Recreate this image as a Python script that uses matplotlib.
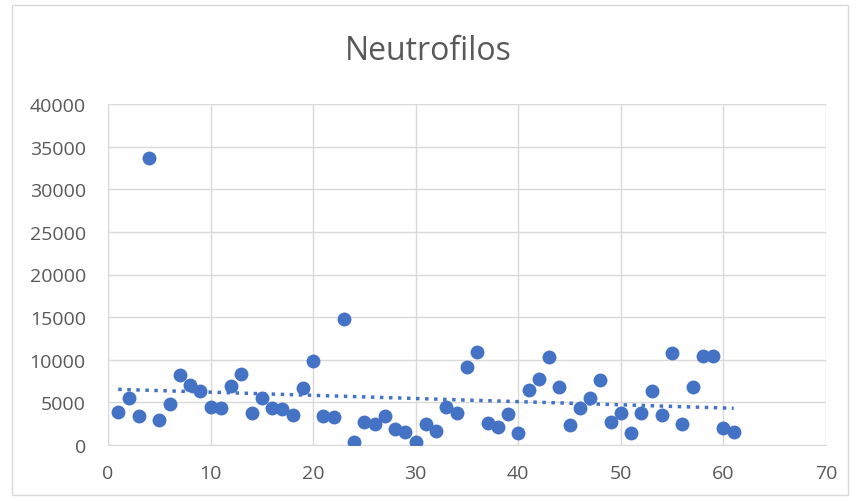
import numpy as np
import matplotlib
matplotlib.use("Agg")
import matplotlib.pyplot as plt
from matplotlib.patches import Rectangle

# Neutrofilos scatter with linear trend line

x = list(range(1, 62))
neutrofilos = [3870, 5500, 3400, 33700, 2900, 4800, 8200, 7000, 6300, 4500,
               4300, 6900, 8300, 3800, 5500, 4300, 4200, 3500, 6700, 9800,
               3400, 3300, 14800, 350, 2700, 2500, 3400, 1900, 1500, 350,
               2500, 1700, 4500, 3800, 9100, 10900, 2600, 2100, 3600, 1400,
               6400, 7700, 10300, 6800, 2300, 4300, 5500, 7600, 2700, 3700,
               1400, 3800, 6300, 3500, 10800, 2500, 6800, 10400, 10400, 2000,
               1500]

blue = "#4472C4"
grid = "#D9D9D9"
text_col = "#595959"

plt.rcParams["font.family"] = ["Open Sans", "DejaVu Sans"]

fig = plt.figure(figsize=(8.57, 5.02), dpi=100)
ax = fig.add_axes([108 / 857, 1 - 446 / 502, (826 - 108) / 857, (446 - 105) / 502])

# outer chart border
fig.patches.append(Rectangle((12 / 857, 6 / 502), 836 / 857, 490 / 502,
                             transform=fig.transFigure, fill=False,
                             edgecolor=grid, linewidth=1))

ax.scatter(x, neutrofilos, s=100, color=blue, zorder=3, linewidths=0)

# linear trend
coef = np.polyfit(x, neutrofilos, 1)
xs = np.array([x[0], x[-1]])
ax.plot(xs, np.polyval(coef, xs), color=blue, linestyle=(0, (1, 1.6)),
        linewidth=2.5, zorder=2)

ax.set_xlim(0, 70)
ax.set_ylim(0, 40000)
ax.set_xticks(range(0, 71, 10))
ax.set_yticks(range(0, 40001, 5000))
ax.grid(True, color=grid, linewidth=1)
ax.set_axisbelow(True)
for side in ["top", "right"]:
    ax.spines[side].set_visible(False)
for side in ["left", "bottom"]:
    ax.spines[side].set_color(grid)
ax.tick_params(length=0, labelsize=14, colors=text_col)
ax.tick_params(axis="y", pad=16)
ax.tick_params(axis="x", pad=14)

fig.text(0.5, 1 - 52 / 502, "Neutrofilos", ha="center", va="center",
         fontsize=23, color=text_col)

fig.savefig("out.png", dpi=100)
